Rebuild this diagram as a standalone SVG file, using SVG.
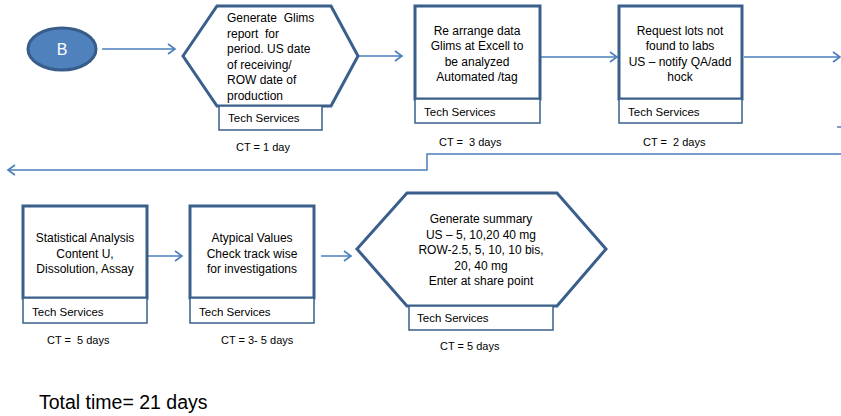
<svg xmlns="http://www.w3.org/2000/svg" width="841" height="416" viewBox="0 0 841 416">
  <style>
    .shape { fill: #ffffff; stroke: #3a5f8b; stroke-width: 3; stroke-linejoin: miter; }
    .role { fill: #ffffff; stroke: #3a5f8b; stroke-width: 1.5; }
    .conn { fill: none; stroke: #4a7ebb; stroke-width: 1.5; }
    text { font-family: "Liberation Sans", Arial, sans-serif; fill: #000000; }
    .body { font-size: 12px; }
    .mid { text-anchor: middle; }
    .lbl { font-size: 11.5px; }
    .ct { font-size: 11px; }
  </style>
  <defs>
    <marker id="arrow" markerUnits="userSpaceOnUse" markerWidth="10" markerHeight="12" refX="8" refY="6" orient="auto">
      <path d="M1,1 L8,6 L1,11" fill="none" stroke="#4a7ebb" stroke-width="1.6"/>
    </marker>
  </defs>

  <rect width="841" height="416" fill="#ffffff"/>

  <!-- connectors -->
  <g id="connectors">
    <line class="conn" x1="102" y1="49" x2="175" y2="49" marker-end="url(#arrow)"/>
    <line class="conn" x1="359" y1="56" x2="402" y2="56" marker-end="url(#arrow)"/>
    <line class="conn" x1="541" y1="57" x2="617" y2="57" marker-end="url(#arrow)"/>
    <line class="conn" x1="744" y1="57" x2="840" y2="57" marker-end="url(#arrow)"/>
    <polyline class="conn" points="841,154 427,154 427,170 8,170" marker-end="url(#arrow)"/>
    <line class="conn" x1="148" y1="256" x2="182" y2="256" marker-end="url(#arrow)"/>
    <line class="conn" x1="321" y1="256" x2="351" y2="256" marker-end="url(#arrow)"/>
    <line class="conn" x1="837" y1="127" x2="841" y2="127"/>
  </g>

  <!-- start marker -->
  <g id="start-b">
    <ellipse cx="62" cy="49" rx="34" ry="21" fill="#4f81bd" stroke="#385d8a" stroke-width="3"/>
    <text x="62" y="55" class="mid" font-size="16" style="fill:#ffffff">B</text>
  </g>

  <!-- step 1: Glims report -->
  <g id="step-glims-report">
    <polygon class="shape" points="183,56 217,6 331,6 358,56 331,106 217,106"/>
    <text class="body" x="227" y="22" xml:space="preserve">Generate  Glims</text>
    <text class="body" x="227" y="37.5" xml:space="preserve">report  for</text>
    <text class="body" x="227" y="53">period. US date</text>
    <text class="body" x="227" y="68.5">of receiving/</text>
    <text class="body" x="227" y="84">ROW date of</text>
    <text class="body" x="227" y="99.5">production</text>
    <rect class="role" x="219" y="106" width="103" height="24"/>
    <text class="lbl" x="228" y="122">Tech Services</text>
    <text class="ct" x="236" y="151">CT = 1 day</text>
  </g>

  <!-- step 2: rearrange data -->
  <g id="step-rearrange">
    <rect class="shape" x="415" y="6" width="125" height="93"/>
    <text class="body mid" x="477" y="34.5">Re arrange data</text>
    <text class="body mid" x="477" y="50">Glims at Excell to</text>
    <text class="body mid" x="477" y="65.5">be analyzed</text>
    <text class="body mid" x="477" y="81">Automated /tag</text>
    <rect class="role" x="415" y="99" width="125" height="24"/>
    <text class="lbl" x="424" y="116">Tech Services</text>
    <text class="ct" x="439" y="146" xml:space="preserve">CT =  3 days</text>
  </g>

  <!-- step 3: request lots -->
  <g id="step-request-lots">
    <rect class="shape" x="619" y="6" width="123" height="93"/>
    <text class="body mid" x="680" y="34.5">Request lots not</text>
    <text class="body mid" x="680" y="50">found to labs</text>
    <text class="body mid" x="680" y="65.5">US – notify QA/add</text>
    <text class="body mid" x="680" y="81">hock</text>
    <rect class="role" x="619" y="99" width="123" height="24"/>
    <text class="lbl" x="628" y="116">Tech Services</text>
    <text class="ct" x="643" y="146" xml:space="preserve">CT =  2 days</text>
  </g>

  <!-- step 4: statistical analysis -->
  <g id="step-statistics">
    <rect class="shape" x="23" y="206" width="124" height="92"/>
    <text class="body mid" x="85" y="242">Statistical Analysis</text>
    <text class="body mid" x="85" y="257.5">Content U,</text>
    <text class="body mid" x="85" y="273">Dissolution, Assay</text>
    <rect class="role" x="23" y="298" width="124" height="25"/>
    <text class="lbl" x="32" y="316">Tech Services</text>
    <text class="ct" x="47" y="344" xml:space="preserve">CT =  5 days</text>
  </g>

  <!-- step 5: atypical values -->
  <g id="step-atypical">
    <rect class="shape" x="190" y="206" width="124" height="92"/>
    <text class="body mid" x="252" y="242">Atypical Values</text>
    <text class="body mid" x="252" y="257.5">Check track wise</text>
    <text class="body mid" x="252" y="273">for investigations</text>
    <rect class="role" x="190" y="298" width="124" height="25"/>
    <text class="lbl" x="199" y="316">Tech Services</text>
    <text class="ct" x="221" y="344">CT = 3- 5 days</text>
  </g>

  <!-- step 6: summary -->
  <g id="step-summary">
    <polygon class="shape" points="357,249 407,193 557,193 606,249 557,306 407,306"/>
    <text class="body mid" x="481" y="223">Generate summary</text>
    <text class="body mid" x="481" y="238.5">US – 5, 10,20 40 mg</text>
    <text class="body mid" x="481" y="254">ROW-2.5, 5, 10, 10 bis,</text>
    <text class="body mid" x="481" y="269.5">20, 40 mg</text>
    <text class="body mid" x="481" y="285">Enter at share point</text>
    <rect class="role" x="409" y="306" width="144" height="24"/>
    <text class="lbl" x="417" y="322">Tech Services</text>
    <text class="ct" x="440" y="350">CT = 5 days</text>
  </g>

  <text x="39" y="409" font-size="19.5">Total time= 21 days</text>
</svg>
